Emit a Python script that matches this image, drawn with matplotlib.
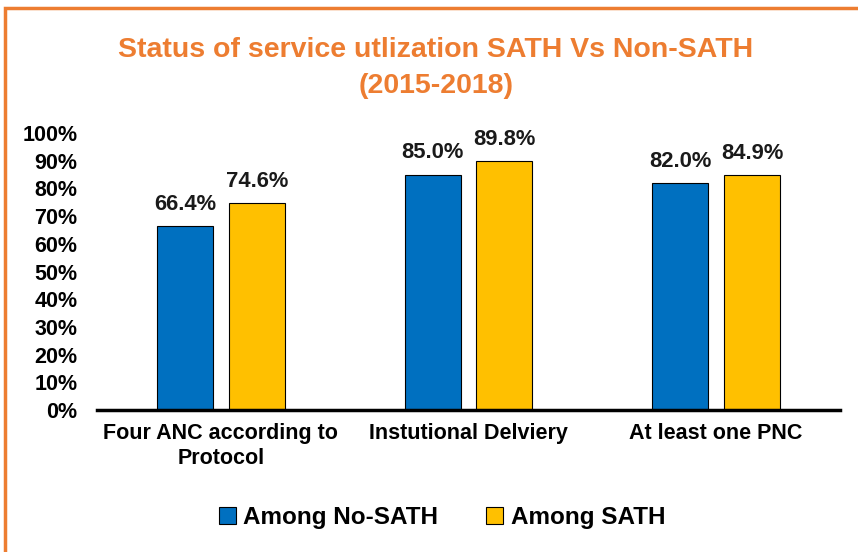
import matplotlib.pyplot as plt
import matplotlib.ticker as mticker
from matplotlib.patches import Rectangle
import numpy as np

categories = ["Four ANC according to\nProtocol", "Instutional Delviery", "At least one PNC"]
no_sath = [0.664, 0.850, 0.820]
sath = [0.746, 0.898, 0.849]
series_names = ["Among No-SATH", "Among SATH"]

BLUE = "#0070C0"
GOLD = "#FFC000"
ORANGE = "#ED7D31"

plt.rcParams["font.family"] = ["Liberation Sans", "DejaVu Sans"]
plt.rcParams["font.weight"] = "bold"

fig = plt.figure(figsize=(8.58, 5.52), dpi=100, facecolor="white")
ax = fig.add_axes([0.113, 0.257, 0.866, 0.502])

x = np.arange(len(categories))
w = 0.226
off = 0.145
ax.bar(x - off, no_sath, w, color=BLUE, edgecolor="black", linewidth=0.8,
       label=series_names[0], zorder=2)
ax.bar(x + off, sath, w, color=GOLD, edgecolor="black", linewidth=0.8,
       label=series_names[1], zorder=2)

for xs, vals in ((x - off, no_sath), (x + off, sath)):
    for xi, v in zip(xs, vals):
        ax.annotate(f"{v * 100:.1f}%", xy=(xi, v), xytext=(0, 8),
                    textcoords="offset points", ha="center", va="bottom",
                    fontsize=15.8, fontweight="bold", color="#1a1a1a")

ax.set_xlim(-0.5, 2.5)
ax.set_ylim(0, 1.0)
ax.set_yticks(np.arange(0, 1.01, 0.1))
ax.yaxis.set_major_formatter(mticker.FuncFormatter(lambda y, _: f"{y * 100:.0f}%"))
ax.set_xticks(x)
ax.set_xticklabels(categories, fontsize=15.5, fontweight="bold", linespacing=1.3)
ax.tick_params(axis="y", length=0, pad=14, labelsize=15.5)
ax.tick_params(axis="x", length=0, pad=9)
for lab in ax.get_yticklabels():
    lab.set_fontweight("bold")

for s in ("top", "right", "left"):
    ax.spines[s].set_visible(False)
ax.spines["bottom"].set_linewidth(2.5)
ax.spines["bottom"].set_color("black")

fig.text(0.508, 0.876, "Status of service utlization SATH Vs Non-SATH\n(2015-2018)",
         ha="center", va="center", fontsize=20.5, fontweight="bold",
         color=ORANGE, linespacing=1.5)

fig.legend(loc="center", bbox_to_anchor=(0.515, 0.063), ncol=2, frameon=False,
           handlelength=0.7, handleheight=0.7, handletextpad=0.3,
           columnspacing=2.0, prop={"weight": "bold", "size": 17.5})

fig.patches.append(Rectangle((5 / 858, -0.1), 1.2, 1 - 8 / 552 + 0.1,
                             transform=fig.transFigure, fill=False,
                             edgecolor=ORANGE, linewidth=2.5, zorder=5))

fig.savefig("out.png", dpi=100, facecolor="white")
